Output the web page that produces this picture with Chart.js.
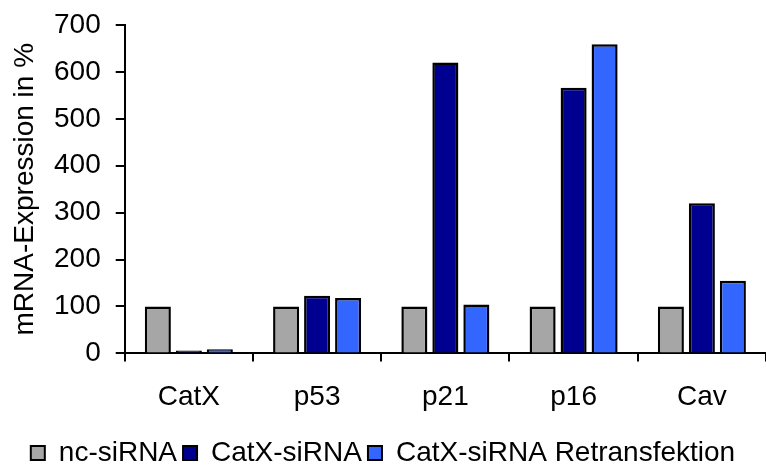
<!DOCTYPE html>
<html>
<head>
<meta charset="utf-8">
<script src="https://cdn.jsdelivr.net/npm/chart.js@4/dist/chart.umd.min.js"></script>
<style>
  html, body { margin: 0; padding: 0; background: #fff; }
  #wrap { width: 766px; height: 467px; }
</style>
</head>
<body>
<div id="wrap"><canvas id="expr"></canvas></div>
<script>
const genes = ['CatX', 'p53', 'p21', 'p16', 'Cav'];
const ncSiRNA = [100, 100, 100, 100, 100];
const catxSiRNA = [3, 123, 620, 566, 320];
const catxRetrans = [9, 118, 104, 659, 155];
const yTicks = [0, 100, 200, 300, 400, 500, 600, 700];

const font = { family: 'Arial, "Liberation Sans", sans-serif', size: 28 };

const ctx = document.getElementById('expr').getContext('2d');
new Chart(ctx, {
    type: 'bar',
    data: {
        labels: genes,
        datasets: [
            { label: 'nc-siRNA', data: ncSiRNA, backgroundColor: '#a6a6a6' },
            { label: 'CatX-siRNA', data: catxSiRNA, backgroundColor: '#000090' },
            { label: 'CatX-siRNA Retransfektion', data: catxRetrans, backgroundColor: '#3366ff' }
        ].map(d => Object.assign(d, {
            borderColor: '#000', borderWidth: 2.5, borderSkipped: 'bottom', minBarLength: 3,
            categoryPercentage: 0.725, barPercentage: 0.84
        }))
    },
    options: {
        responsive: true,
        maintainAspectRatio: false,
        animation: false,
        // negative bottom padding pushes the legend/axis down to where the reference has them
        layout: { padding: { top: 0, right: 0, left: 0, bottom: -10 } },
        plugins: {
            tooltip: { enabled: false },
            legend: {
                position: 'bottom',
                labels: {
                    font, color: '#000',
                    boxWidth: 14, boxHeight: 14, padding: 6,
                    generateLabels: chart => chart.data.datasets.map((d, i) => ({
                        text: d.label, fillStyle: d.backgroundColor,
                        strokeStyle: '#000', lineWidth: 2, datasetIndex: i, fontColor: '#000'
                    }))
                }
            }
        },
        scales: {
            x: {
                grid: { drawOnChartArea: false, color: '#000', lineWidth: 2, tickLength: 8 },
                border: { color: '#000', width: 2 },
                ticks: { font, color: '#000', padding: 19 }
            },
            y: {
                min: 0, max: 700,
                afterBuildTicks: axis => { axis.ticks = yTicks.map(v => ({ value: v })); },
                afterFit: axis => { axis.paddingTop = 25; },
                title: {
                    display: true, text: 'mRNA-Expression in %', color: '#000',
                    font: { family: font.family, size: 28, lineHeight: 1 },
                    padding: { top: 11, bottom: 0 }
                },
                grid: { drawOnChartArea: false, color: '#000', lineWidth: 2, tickLength: 9 },
                border: { color: '#000', width: 2 },
                ticks: { font, color: '#000', padding: 15 }
            }
        }
    }
});
</script>
</body>
</html>
